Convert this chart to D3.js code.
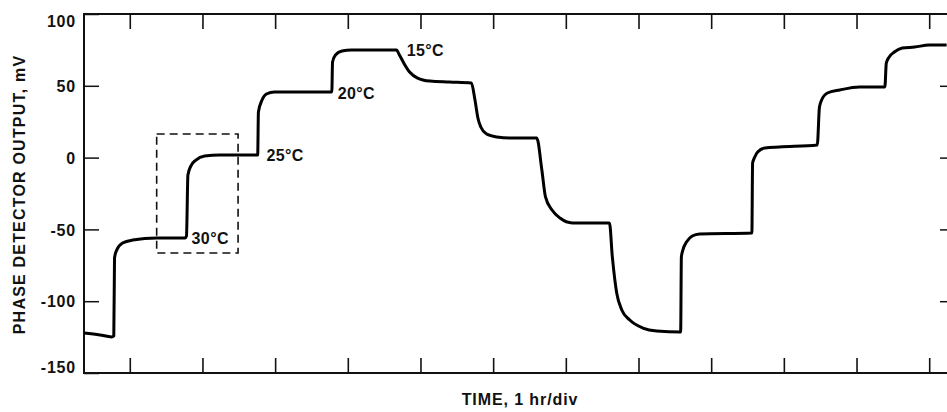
<!DOCTYPE html>
<html>
<head>
<meta charset="utf-8">
<script src="https://cdn.jsdelivr.net/npm/d3@7"></script>
<style>
  html, body { margin: 0; padding: 0; background: #fff; }
  svg text { font-family: "Liberation Sans", Arial, Helvetica, sans-serif; fill: #111; }
</style>
</head>
<body>
<div id="chart"></div>
<script>
// Phase detector output vs. time, stepped temperature changes

// time (hr) and output (mV)
const timeHr = [
    0.37, 0.59, 0.75, 0.78, 0.79, 0.82, 0.90, 1.04, 1.37, 1.76,
    1.78, 1.80, 1.84, 1.91, 2.03, 2.24, 2.76,
    2.77, 2.82, 2.88, 2.99, 3.78,
    3.79, 3.83, 3.92, 4.05, 4.67,
    4.71, 4.77, 4.85, 4.96, 5.13, 5.40, 5.70,
    5.75, 5.79, 5.83, 5.91, 6.05, 6.23, 6.60,
    6.67, 6.72, 6.81, 6.92, 7.09, 7.60,
    7.64, 7.70, 7.77, 7.88, 8.06, 8.25, 8.58,
    8.59, 8.61, 8.66, 8.74, 8.84, 9.56,
    9.57, 9.60, 9.64, 9.74, 9.94, 10.46,
    10.49, 10.52, 10.60, 10.77, 11.04, 11.39,
    11.41, 11.45, 11.52, 11.63, 11.80, 12.00, 12.24
];
const outputMv = [
    -122.2, -123.5, -124.9, -124.2, -69.9, -64.4, -59.5, -57.4, -56.0, -56.0,
    -54.6, -12.1, -5.9, -1.7, 1.1, 1.8, 1.8,
    31.7, 40.1, 44.3, 45.7, 45.7,
    66.6, 71.5, 74.2, 74.9, 74.9,
    71.5, 65.9, 59.6, 55.4, 53.3, 52.6, 51.9,
    40.1, 27.6, 21.3, 16.4, 14.3, 13.6, 13.6,
    -8.6, -27.4, -36.5, -42.1, -45.5, -45.5,
    -69.2, -94.3, -106.1, -113.1, -118.7, -120.8, -121.5,
    -69.2, -64.4, -58.8, -54.6, -53.2, -52.5,
    -3.8, 0.4, 3.9, 6.7, 7.4, 8.8,
    35.2, 40.1, 45.0, 47.1, 49.2, 49.2,
    65.9, 70.1, 73.5, 76.3, 77.0, 78.4, 78.4
];

// temperature annotations: [time hr, mV, text]
const tempLabels = [
    [1.85, -56.5, "30°C"],
    [2.88, 1.8, "25°C"],
    [3.86, 45.0, "20°C"],
    [4.81, 75.0, "15°C"]
];

// dashed box around the 30°C -> 25°C step
const boxHr = [1.37, 2.49];
const boxMv = [-66.4, 16.4];

const yTicks = [100, 50, 0, -50, -100, -150];
const yRightTicks = [50, 0, -50, -100];
const xTicks = [1, 2, 3, 4, 5, 6, 7, 8, 9, 10, 11, 12];

const width = 947;
const height = 412;
const margin = { top: 14, left: 84, bottom: 39 };

const x = d3.scaleLinear().domain([0.37, 12.3]).range([margin.left, 951]);
const y = d3.scaleLinear().domain([-150, 100]).range([height - margin.bottom, margin.top]);

const svg = d3.select("#chart")
    .append("svg")
    .attr("width", width)
    .attr("height", height);

// left axis with labels, ticks pointing inward
const yAxis = svg.append("g")
    .attr("transform", `translate(${margin.left},0)`)
    .call(d3.axisLeft(y).tickValues(yTicks).tickSize(-15).tickPadding(8).tickFormat(d => String(d)));
yAxis.select(".domain").remove();
yAxis.selectAll(".tick line").attr("stroke", "#111").attr("stroke-width", 1.5);
yAxis.selectAll(".tick text")
    .attr("font-size", 16)
    .attr("font-weight", "bold")
    .attr("letter-spacing", 0.8)
    .attr("dy", d => d === 100 ? "0.8em" : d === -150 ? "-0.05em" : "0.35em");

// right ticks
const yRight = svg.append("g")
    .attr("transform", `translate(951,0)`)
    .call(d3.axisRight(y).tickValues(yRightTicks).tickSize(-11).tickFormat(""));
yRight.select(".domain").remove();
yRight.selectAll(".tick line").attr("stroke", "#111").attr("stroke-width", 1.5);

// top and bottom ticks
const xTop = svg.append("g")
    .attr("transform", `translate(0,${y(100)})`)
    .call(d3.axisTop(x).tickValues(xTicks).tickSize(-15).tickFormat(""));
const xBottom = svg.append("g")
    .attr("transform", `translate(0,${y(-150)})`)
    .call(d3.axisBottom(x).tickValues(xTicks).tickSize(-15).tickFormat(""));
[xTop, xBottom].forEach(g => {
    g.select(".domain").remove();
    g.selectAll(".tick line").attr("stroke", "#111").attr("stroke-width", 1.6);
});

// frame
svg.append("rect")
    .attr("x", x.range()[0])
    .attr("y", y(100))
    .attr("width", x.range()[1] - x.range()[0])
    .attr("height", y(-150) - y(100))
    .attr("fill", "none")
    .attr("stroke", "#111")
    .attr("stroke-width", 2);

// dashed box
svg.append("rect")
    .attr("x", x(boxHr[0]))
    .attr("y", y(boxMv[1]))
    .attr("width", x(boxHr[1]) - x(boxHr[0]))
    .attr("height", y(boxMv[0]) - y(boxMv[1]))
    .attr("fill", "none")
    .attr("stroke", "#111")
    .attr("stroke-width", 1.6)
    .attr("stroke-dasharray", "8,5");

// trace
const points = timeHr.map((t, i) => [t, outputMv[i]]);
const line = d3.line()
    .x(d => x(d[0]))
    .y(d => y(d[1]))
    .curve(d3.curveMonotoneX);

svg.append("path")
    .datum(points)
    .attr("d", line)
    .attr("fill", "none")
    .attr("stroke", "#000")
    .attr("stroke-width", 3)
    .attr("stroke-linejoin", "round");

// temperature labels
svg.selectAll(".temp")
    .data(tempLabels)
    .enter()
    .append("text")
    .attr("class", "temp")
    .attr("x", d => x(d[0]))
    .attr("y", d => y(d[1]))
    .attr("dy", "0.36em")
    .attr("font-size", 16)
    .attr("font-weight", "bold")
    .attr("letter-spacing", 0.4)
    .text(d => d[2]);

// axis titles
svg.append("text")
    .attr("transform", `translate(25,${(y(100) + y(-150)) / 2 + 1}) rotate(-90)`)
    .attr("text-anchor", "middle")
    .attr("font-size", 16)
    .attr("font-weight", "bold")
    .attr("letter-spacing", 1.2)
    .text("PHASE DETECTOR OUTPUT, mV");

svg.append("text")
    .attr("x", 520)
    .attr("y", 405)
    .attr("text-anchor", "middle")
    .attr("font-size", 16)
    .attr("font-weight", "bold")
    .attr("letter-spacing", 0.9)
    .text("TIME, 1 hr/div");
</script>
</body>
</html>
